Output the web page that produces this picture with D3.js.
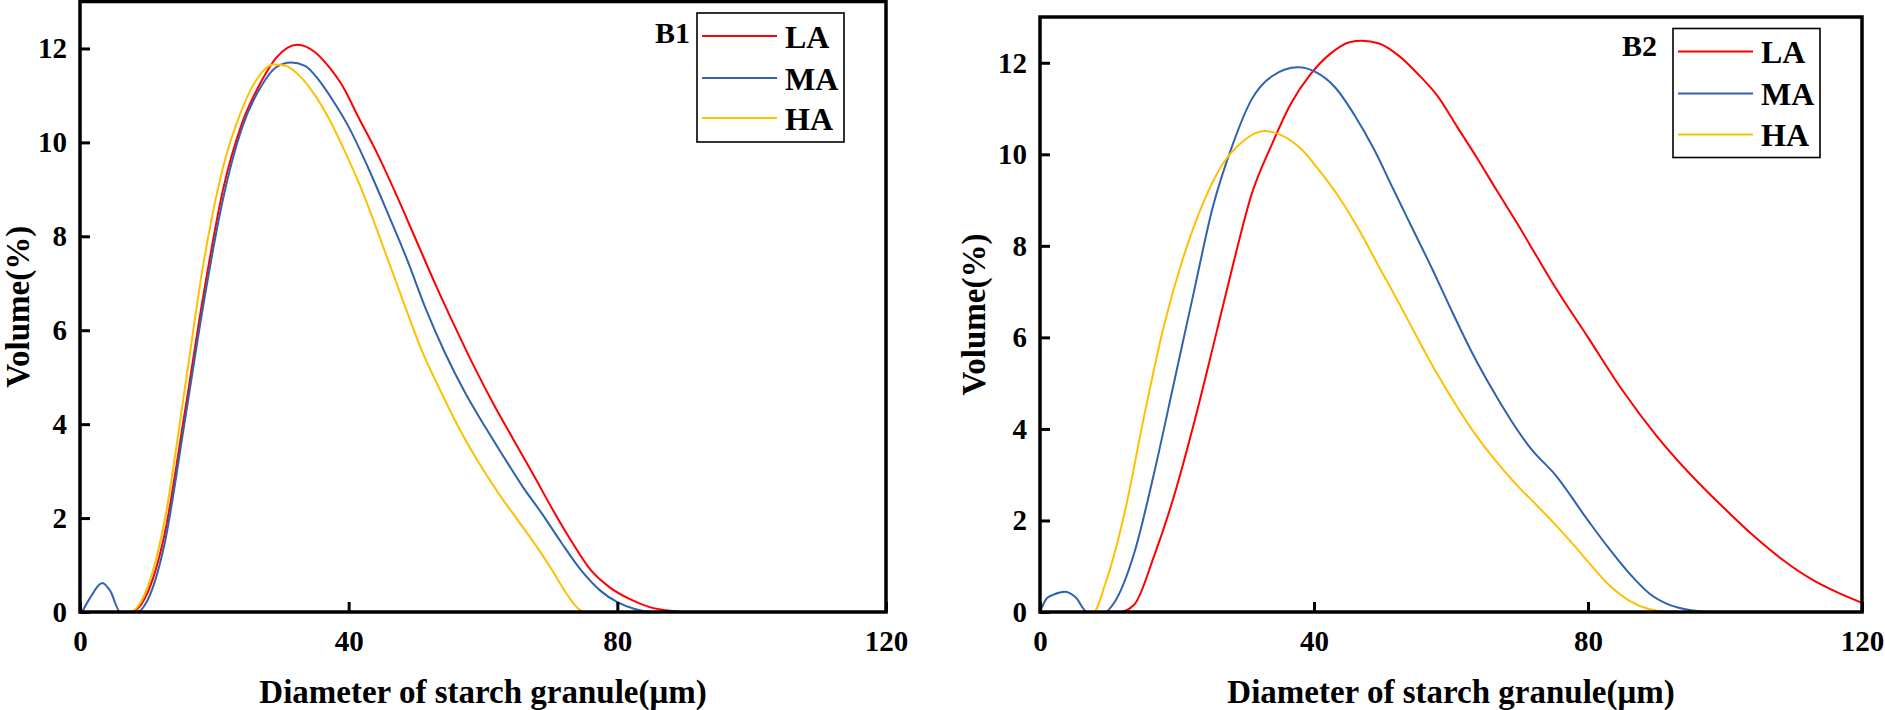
<!DOCTYPE html>
<html>
<head>
<meta charset="utf-8">
<script src="https://cdn.jsdelivr.net/npm/d3@7"></script>
<style>
body { margin: 0; background: #fff; }
text { font-family: "Times New Roman", "Liberation Serif", serif; font-weight: bold; fill: #000; }
</style>
</head>
<body>
<svg id="chart" width="1885" height="710"></svg>
<script>
// tick values / labels
var xTicks = [0, 40, 80, 120];
var yTicks = [0, 2, 4, 6, 8, 10, 12];
var seriesNames = ["LA", "MA", "HA"];
var panelLabels = ["B1", "B2"];
var xTitle = "Diameter of starch granule(μm)";
var yTitle = "Volume(%)";

// B1 curves, [diameter, volume]
var b1LA = [[0,0],[7.6,0],[9.7,0.3],[12.6,1.66],[15.5,4.16],[18.4,6.77],[21.3,9.0],[24.1,10.4],[27,11.3],[29.2,11.8],
  [32.4,12.08],[35,11.92],[37.1,11.6],[39.3,11.15],[41.4,10.55],[44.3,9.75],[47.2,8.85],[50.1,7.9],[53,6.95],[55.9,6.05],
  [58.7,5.22],[61.6,4.42],[64.5,3.68],[67.4,2.95],[70.3,2.2],[73.2,1.5],[76,0.9],[78.9,0.52],[81.8,0.28],[84.7,0.11],
  [88.3,0.02],[90,0],[120,0]];
var b1MA = [[0.3,0],[1.5,0.3],[3.3,0.62],[4.5,0.45],[6.0,0],[8.6,0],[9.7,0.16],[12.6,1.46],[15.5,3.97],[18.4,6.57],
  [21.3,8.8],[24.1,10.3],[27,11.2],[29.2,11.6],[31.4,11.7],[33.5,11.63],[35.7,11.3],[37.8,10.86],[40,10.33],[42.9,9.46],
  [45.8,8.5],[48.6,7.54],[51.5,6.45],[54.4,5.5],[57.3,4.68],[60.2,3.97],[63.1,3.3],[65.9,2.67],[68.8,2.09],[71.7,1.47],
  [74.6,0.89],[77.5,0.45],[80,0.21],[82.5,0.07],[85.4,0],[120,0]];
var b1HA = [[0,0],[7.4,0],[9.7,0.4],[12.6,1.95],[15.5,4.65],[18.4,7.44],[21.3,9.47],[24.1,10.7],[26.3,11.34],[28.8,11.66],
  [30.6,11.63],[32.8,11.4],[35,11.0],[37.1,10.5],[39.3,9.85],[42.2,8.9],[45,7.83],[47.9,6.7],[50.8,5.6],[53.7,4.7],
  [56.6,3.87],[59.5,3.15],[62.3,2.53],[65.2,1.95],[68.1,1.37],[70.3,0.89],[72.4,0.4],[74.2,0.07],[75,0],[120,0]];

// B2 curves
var b2LA = [[0,0],[11.6,0],[13.8,0.17],[16.6,1.2],[19.5,2.5],[22.4,4.08],[25.2,5.76],[28.1,7.54],[30.9,9.13],[33.8,10.2],
  [36.6,11.1],[39.5,11.75],[42.4,12.2],[45.2,12.45],[47,12.48],[49.5,12.42],[52.4,12.15],[55.2,11.75],[58.1,11.26],
  [60.9,10.6],[63.8,9.92],[66.6,9.23],[69.5,8.53],[72.4,7.8],[75.2,7.1],[80,6.0],[85,4.85],[90,3.85],[95,3.0],[100,2.25],
  [104.5,1.62],[108.5,1.13],[112.8,0.7],[116.8,0.4],[120,0.2]];
var b2MA = [[0,0],[1.0,0.3],[2.0,0.38],[3.6,0.44],[5.2,0.32],[6.9,0],[9.5,0],[10.9,0.22],[13.8,1.31],[16.6,3.0],
  [19.5,4.97],[22.4,6.95],[25.2,8.83],[28.1,10.2],[30.9,11.2],[33.8,11.7],[37.7,11.9],[40.2,11.8],[43.1,11.46],
  [45.9,10.86],[48.8,10.1],[51.6,9.23],[54.5,8.34],[57.4,7.45],[60.2,6.55],[63.1,5.66],[66,4.87],[68.8,4.18],
  [71.6,3.58],[75.2,3.0],[80,2.0],[83,1.4],[86,0.85],[89,0.4],[92,0.15],[95,0.04],[98,0],[120,0]];
var b2HA = [[0,0],[7.8,0],[9.5,0.6],[12.4,2.2],[15.2,4.28],[18.1,6.26],[20.9,7.74],[23.8,8.93],[26.6,9.77],[29.5,10.27],
  [32.7,10.51],[35.2,10.42],[38.1,10.12],[40.9,9.62],[43.8,9.03],[46.6,8.34],[49.5,7.54],[52.4,6.75],[55.2,5.96],
  [58.1,5.17],[60.9,4.48],[63.8,3.83],[66.6,3.29],[69.5,2.79],[72.4,2.35],[75.6,1.85],[78,1.45],[80,1.1],[83,0.6],
  [86,0.25],[89,0.06],[92,0],[120,0]];

var colors = ["#ff0000", "#2f63ad", "#ffc000"];

var panels = [
  { label: panelLabels[0], series: [b1LA, b1MA, b1HA], left: 80, right: 886, top: 1.5, bottom: 612,
    yTitleX: 29, labelDx: -7, labelDy: 30, rowY: [23, 65, 105] },
  { label: panelLabels[1], series: [b2LA, b2MA, b2HA], left: 1040, right: 1862, top: 17, bottom: 612,
    yTitleX: 985, labelDx: -16, labelDy: 27, rowY: [23, 65, 106] }
];

var svg = d3.select("#chart");

panels.forEach(function(p) {
  var x = d3.scaleLinear().domain([0, 120]).range([p.left, p.right]);
  var y = d3.scaleLinear().domain([0, 13]).range([p.bottom, p.top]);
  var g = svg.append("g");

  // curves
  var line = d3.line()
    .x(function(d) { return x(d[0]); })
    .y(function(d) { return y(d[1]); })
    .curve(d3.curveMonotoneX);
  p.series.forEach(function(s, i) {
    g.append("path")
      .datum(s)
      .attr("fill", "none")
      .attr("stroke", colors[i])
      .attr("stroke-width", 2)
      .attr("d", line);
  });

  // axes, ticks pointing in
  var xAxis = g.append("g")
    .attr("transform", "translate(0," + p.bottom + ")")
    .call(d3.axisBottom(x).tickValues(xTicks).tickSizeInner(-10).tickSizeOuter(0).tickPadding(18));
  var yAxis = g.append("g")
    .attr("transform", "translate(" + p.left + ",0)")
    .call(d3.axisLeft(y).tickValues(yTicks).tickSizeInner(-10).tickSizeOuter(0).tickPadding(13));
  [xAxis, yAxis].forEach(function(a) {
    a.select(".domain").remove();
    a.selectAll(".tick line").attr("stroke", "#000").attr("stroke-width", 3);
    a.selectAll(".tick text").style("font-size", "29px");
  });

  // frame
  g.append("rect")
    .attr("x", p.left).attr("y", p.top)
    .attr("width", p.right - p.left).attr("height", p.bottom - p.top)
    .attr("fill", "none").attr("stroke", "#000").attr("stroke-width", 3.5);

  // titles
  g.append("text")
    .attr("x", (p.left + p.right) / 2).attr("y", 703)
    .attr("text-anchor", "middle")
    .style("font-size", "33px")
    .text(xTitle);
  g.append("text")
    .attr("transform", "translate(" + p.yTitleX + "," + ((p.top + p.bottom) / 2) + ") rotate(-90)")
    .attr("text-anchor", "middle")
    .style("font-size", "33px")
    .text(yTitle);

  // legend
  var bx = p.right - 189, by = p.top + 11.5;
  var lg = g.append("g").attr("transform", "translate(" + bx + "," + by + ")");
  lg.append("rect")
    .attr("width", 147).attr("height", 129)
    .attr("fill", "#fff").attr("stroke", "#000").attr("stroke-width", 1.6);
  seriesNames.forEach(function(name, i) {
    lg.append("line")
      .attr("x1", 5).attr("x2", 80)
      .attr("y1", p.rowY[i]).attr("y2", p.rowY[i])
      .attr("stroke", colors[i]).attr("stroke-width", 2);
    lg.append("text")
      .attr("x", 88).attr("y", p.rowY[i] + 11.5)
      .style("font-size", "32px")
      .text(name);
  });
  lg.append("text")
    .attr("x", p.labelDx).attr("y", p.labelDy)
    .attr("text-anchor", "end")
    .style("font-size", "30px")
    .text(p.label);
});
</script>
</body>
</html>
